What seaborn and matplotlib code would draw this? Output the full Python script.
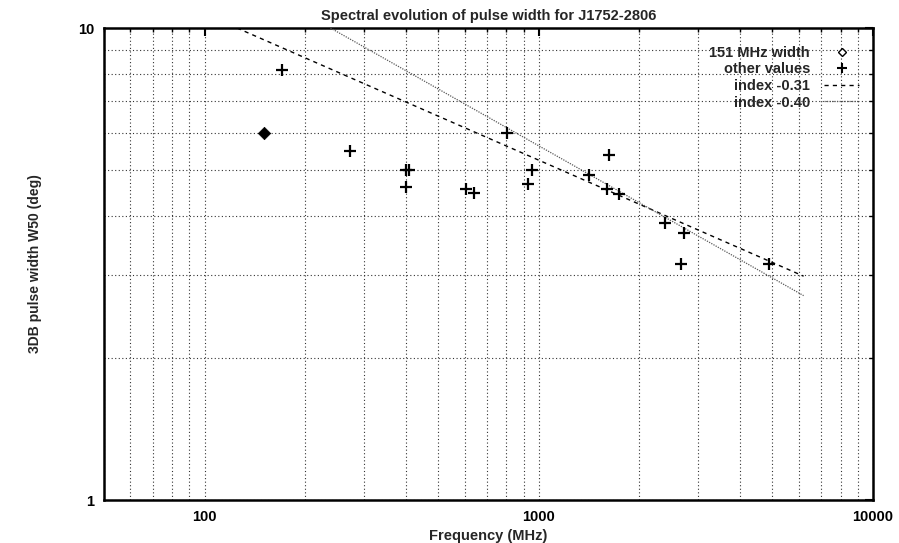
import matplotlib
matplotlib.use("Agg")
import matplotlib.pyplot as plt
import matplotlib.ticker as mticker
from matplotlib.lines import Line2D
import seaborn as sns
import pandas as pd

# ---- data ----
freq_151 = [151]
width_151 = [6.0]

other_freq = [170, 272, 400, 410, 400, 605, 642, 806, 926, 955,
              1410, 1601, 1627, 1735, 2390, 2713, 2657, 4900]
other_width = [8.15, 5.5, 5.0, 5.0, 4.6, 4.56, 4.47, 6.0, 4.67, 5.0,
               4.87, 4.55, 5.38, 4.45, 3.87, 3.67, 3.17, 3.17]

fit031_freq = [125, 6200]
fit031_width = [10.0, 2.98]
fit040_freq = [238, 6200]
fit040_width = [10.0, 2.71]

xtick_values = [100, 1000, 10000]
xtick_labels = ["100", "1000", "10000"]
ytick_values = [1, 10]
ytick_labels = ["1", "10"]

title = "Spectral evolution of pulse width for J1752-2806"
xlabel = "Frequency (MHz)"
ylabel = "3DB pulse width W50 (deg)"
legend_labels = ["151 MHz width", "other values", "index -0.31", "index -0.40"]

# ---- plotting ----
sns.set_theme(style="white")
plt.rcParams['font.family'] = ['Liberation Sans', 'DejaVu Sans']

fig = plt.figure(figsize=(8.99, 5.43), dpi=100)
ax = fig.add_axes([104/899, 43/543, (873-104)/899, (500-28)/543])
ax.set_xscale("log")
ax.set_yscale("log")
ax.set_xlim(50, 10000)
ax.set_ylim(1, 10)

df151 = pd.DataFrame({"f": freq_151, "w": width_151})
dfo = pd.DataFrame({"f": other_freq, "w": other_width})
dfa = pd.DataFrame({"f": fit031_freq, "w": fit031_width})
dfb = pd.DataFrame({"f": fit040_freq, "w": fit040_width})

sns.lineplot(data=dfa, x="f", y="w", ax=ax, color="black", lw=1.0,
             linestyle=(0, (3, 3)), zorder=3)
sns.lineplot(data=dfb, x="f", y="w", ax=ax, color="0.35", lw=0.9,
             linestyle=(0, (1, 1)), zorder=3)
sns.scatterplot(data=dfo, x="f", y="w", ax=ax, marker="+", s=70,
                color="black", linewidth=1.6, zorder=4)
sns.scatterplot(data=df151, x="f", y="w", ax=ax, marker="D", s=40,
                color="black", edgecolor="black", zorder=4)

# grid
ax.set_xticks(xtick_values)
ax.set_xticklabels(xtick_labels)
ax.set_yticks(ytick_values)
ax.set_yticklabels(ytick_labels)
ax.xaxis.set_minor_locator(mticker.LogLocator(base=10, subs=range(2, 10)))
ax.yaxis.set_minor_locator(mticker.LogLocator(base=10, subs=range(2, 10)))
ax.xaxis.set_minor_formatter(mticker.NullFormatter())
ax.yaxis.set_minor_formatter(mticker.NullFormatter())
ax.grid(True, which="both", color="0.2", linestyle=(0, (1, 2.2)), lw=0.8)
ax.set_axisbelow(True)

ax.tick_params(which="major", direction="in", length=6, width=1.5,
               top=True, right=True, labelsize=10.5, pad=7, colors="black")
ax.tick_params(which="minor", direction="in", length=3, width=1.0,
               top=True, right=True, colors="black")
for lab in ax.get_xticklabels() + ax.get_yticklabels():
    lab.set_fontweight("bold")

for sp in ax.spines.values():
    sp.set_color("black")
    sp.set_linewidth(1.8)

ax.set_title(title, fontsize=10.5, fontweight="bold", pad=6)
ax.set_xlabel(xlabel, fontsize=10.5, fontweight="bold", labelpad=4)
ax.set_ylabel(ylabel, fontsize=10, fontweight="bold", labelpad=26)

handles = [
    Line2D([], [], marker="D", markersize=4, markerfacecolor="white",
           markeredgecolor="black", linestyle="none"),
    Line2D([], [], marker="+", markersize=7, color="black", mew=1.5,
           linestyle="none"),
    Line2D([], [], color="black", lw=1.0, linestyle=(0, (3, 3))),
    Line2D([], [], color="0.35", lw=0.9, linestyle=(0, (1, 1))),
]
leg = ax.legend(handles, legend_labels, loc="upper right",
                bbox_to_anchor=(0.99, 0.975), frameon=False,
                markerfirst=False, handlelength=2.4, handletextpad=1.0,
                labelspacing=0.18, borderaxespad=0,
                prop={"size": 10.5, "weight": "bold"})
for vp in leg._legend_handle_box.get_children():
    vp.align = "right"

fig.savefig("out.png", dpi=100)
